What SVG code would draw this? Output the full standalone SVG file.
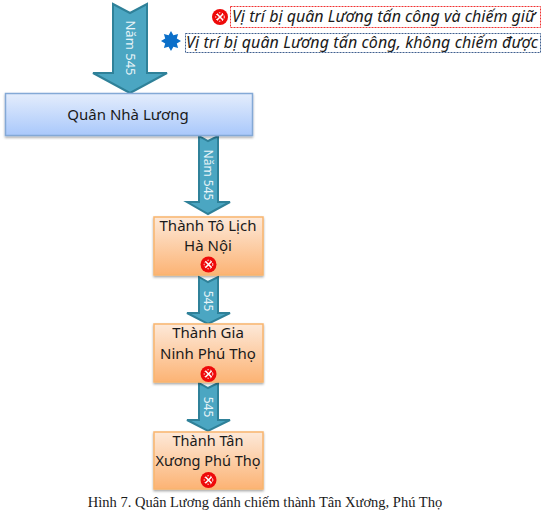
<svg xmlns="http://www.w3.org/2000/svg" width="551" height="514" viewBox="0 0 551 514">
<style>
text{font-family:"Noto Sans","Liberation Sans",sans-serif;fill:#1a1a1a;text-anchor:middle}
.n{font-size:15px}
.a{fill:#4ba6c2;stroke:#2f8199;stroke-width:2}
.l{fill:#e8f4f8;font-size:12px}
.o{fill:url(#og);stroke:#f9b56e;stroke-width:1.5;filter:url(#sh)}
.leg{font-size:16px;font-style:italic;text-anchor:start}
</style>
<defs>
<linearGradient id="og" x1="0" y1="0" x2="0" y2="1"><stop offset="0" stop-color="#fde9d9"/><stop offset="1" stop-color="#fcb374"/></linearGradient>
<linearGradient id="bg" x1="0" y1="0" x2="0" y2="1"><stop offset="0" stop-color="#e4edfc"/><stop offset="1" stop-color="#a9c8fb"/></linearGradient>
<filter id="sh" x="-5%" y="-5%" width="110%" height="115%"><feDropShadow dx="0" dy="1.5" stdDeviation="1" flood-color="#000" flood-opacity=".35"/></filter>
<g id="x"><circle r="8" fill="#ee0a0a"/><circle r="4.300" fill="none" stroke="#fff" stroke-width="1" stroke-dasharray="1.5 1.6"/><path d="M-3-3L3 3M3-3L-3 3" stroke="#fff" stroke-width="1.6"/></g>
</defs>
<g id="connectors">
<path class="a" d="M113 4L130 13L147 4V73H167L130 93L93 73H113Z"/>
<text class="l" style="font-size:13px" transform="translate(130 48) rotate(90)" y="4">Năm 545</text>
<path class="a" d="M199 136L208 141L218 136V202H230L208 214L187 202H199Z"/>
<text class="l" transform="translate(208 175) rotate(90)" y="4">Năm 545</text>
<path class="a" d="M199 277L208 282L218 277V313H230L208 324L187 313H199Z"/>
<text class="l" transform="translate(208 301) rotate(90)" y="4">545</text>
<path class="a" d="M199 383L208 388L218 383V420H230L208 431L187 420H199Z"/>
<text class="l" transform="translate(208 407) rotate(90)" y="4">545</text>
</g>
<g id="quan-nha-luong"><rect x="5.500" y="93.500" width="247" height="42" fill="url(#bg)" stroke="#84a9d6" stroke-width="1.500" filter="url(#sh)"/><text class="n" x="128" y="120">Quân Nhà Lương</text></g>
<g id="to-lich"><rect class="o" x="154" y="217" width="109" height="58"/><text class="n" x="208" y="231">Thành Tô Lịch</text><text class="n" x="208" y="251">Hà Nội</text><use href="#x" x="208.500" y="264.500"/></g>
<g id="gia-ninh"><rect class="o" x="154" y="324" width="109" height="58"/><text class="n" x="208" y="338">Thành Gia</text><text class="n" x="208" y="359">Ninh Phú Thọ</text><use href="#x" x="208.500" y="374"/></g>
<g id="tan-xuong"><rect class="o" x="154" y="432" width="109" height="57"/><text class="n" style="font-size:14.500px" x="208" y="446">Thành Tân</text><text class="n" style="font-size:14.500px" x="208" y="466">Xương Phú Thọ</text><use href="#x" x="208.500" y="480"/></g>
<g id="legend-1"><use href="#x" x="220" y="17"/><rect x="230.500" y="6.500" width="310" height="21" fill="#fff" stroke="#f03030" stroke-dasharray="2 1"/><text class="leg" x="232" y="22" textLength="303">Vị trí bị quân Lương tấn công và chiếm giữ</text></g>
<g id="legend-2"><path d="M171 31l2.400 4.200 4.700-1.300-1.300 4.700 4.200 2.400-4.200 2.400 1.300 4.700-4.700-1.300-2.400 4.200-2.400-4.200-4.700 1.300 1.300-4.700-4.200-2.400 4.200-2.400-1.300-4.700 4.700 1.300z" fill="#0b6fc9"/><rect x="185.500" y="33.500" width="355" height="19" fill="#fff" stroke="#3f5f8f" stroke-dasharray="2 1"/><text class="leg" x="186" y="48" textLength="352">Vị trí  bị quân Lương tấn công, không chiếm được</text></g>
<text x="265" y="507" style="font-family:'Liberation Serif',serif;font-size:14.500px">Hình 7. Quân Lương đánh chiếm thành Tân Xương, Phú Thọ</text>
</svg>
